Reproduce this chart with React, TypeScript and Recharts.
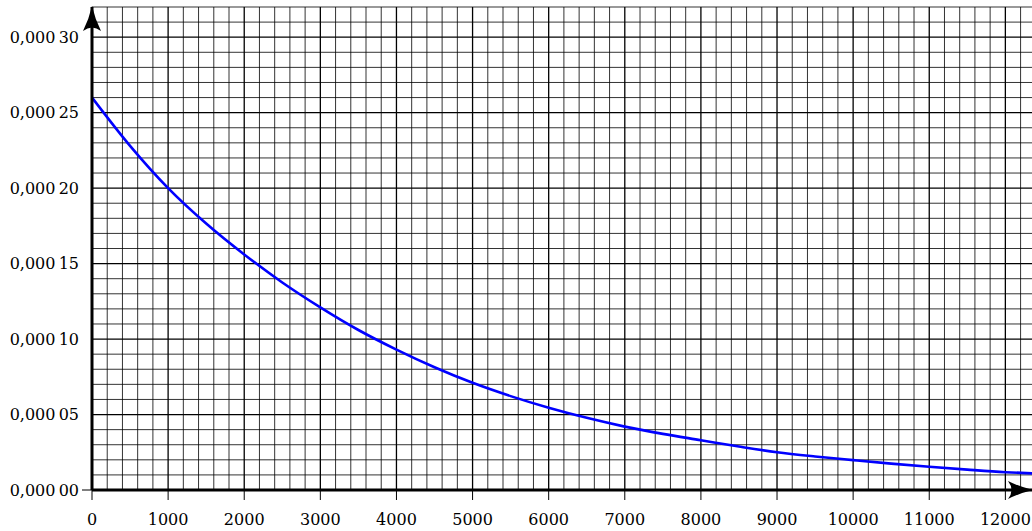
import { LineChart, Line, XAxis, YAxis, ReferenceLine } from "recharts";

// curve (x, y)
const xValues = [0, 500, 1000, 1500, 2000, 2500, 3000, 3500, 4000, 4500, 5000, 5500, 6000, 6500, 7000, 7500, 8000, 8500, 9000, 9500, 10000, 10500, 11000, 11500, 12000, 12350];
const yValues = [
  0.00026, 0.000228, 0.0002, 0.0001765, 0.000156, 0.0001375, 0.000121, 0.000106, 0.000093, 0.0000813, 0.000071,
  0.0000622, 0.0000545, 0.0000478, 0.000042, 0.0000372, 0.000033, 0.0000288, 0.000025, 0.0000222, 0.0000198,
  0.0000175, 0.0000154, 0.0000135, 0.0000118, 0.000011,
];

const xTicks = [0, 1000, 2000, 3000, 4000, 5000, 6000, 7000, 8000, 9000, 10000, 11000, 12000];
const yTicks = [0, 0.00005, 0.0001, 0.00015, 0.0002, 0.00025, 0.0003];
const yTickLabels = ["0,000\u200900", "0,000\u200905", "0,000\u200910", "0,000\u200915", "0,000\u200920", "0,000\u200925", "0,000\u200930"];

const X_MAX = 12350;
const Y_MAX = 0.00032;

const data = xValues.map((x, i) => ({ x, y: yValues[i] }));

// millimetre-paper grid: minor every 200 / 0.00001, major every 1000 / 0.00005
const xGrid = Array.from({ length: 62 }, (_, i) => i * 200).filter((v) => v <= X_MAX);
const yGrid = Array.from({ length: 33 }, (_, i) => +(i * 0.00001).toFixed(5));

const font = { fill: "#000", fontSize: 16, fontFamily: "DejaVu Serif" };

// y labels: only the origin gets a tick mark
function YTick(props: any) {
  const { x, y, payload } = props;
  const i = yTicks.indexOf(payload.value);
  return (
    <g>
      <text x={x} y={y} dy="0.355em" textAnchor="end" {...font}>
        {yTickLabels[i] ?? ""}
      </text>
      {payload.value === 0 && <line x1={x + 3} y1={y} x2={x + 13} y2={y} stroke="#000" strokeWidth={1} />}
    </g>
  );
}

export default function App() {
  return (
    <div style={{ position: "fixed", left: 0, top: 0, background: "#fff" }}>
      <svg width={0} height={0} style={{ position: "absolute" }}>
        <defs>
          <marker id="arrow" markerUnits="userSpaceOnUse" viewBox="0 0 30 20" markerWidth={30} markerHeight={20} refX={24} refY={10} orient="auto-start-reverse">
            <path d="M0,1 Q12,7 25,10 Q12,13 0,19 Q7,10 0,1 Z" fill="#000" />
          </marker>
        </defs>
      </svg>
      <LineChart width={1032} height={531} data={data} margin={{ top: 7, right: 0, left: 0, bottom: 0 }}>
        {xGrid.map((v) => (
          <ReferenceLine key={"x" + v} x={v} stroke="#000" strokeWidth={v % 1000 === 0 ? 1.3 : 1} strokeOpacity={v % 1000 === 0 ? 1 : 0.8} />
        ))}
        {yGrid.map((v, i) => (
          <ReferenceLine key={"y" + i} y={v} stroke="#000" strokeWidth={i % 5 === 0 ? 1.3 : 1} strokeOpacity={i % 5 === 0 ? 1 : 0.8} />
        ))}
        <XAxis
          dataKey="x"
          type="number"
          domain={[0, X_MAX]}
          ticks={xTicks}
          height={41}
          tickSize={10}
          tickMargin={14}
          tick={font}
          tickLine={{ stroke: "#000", strokeWidth: 1 }}
          axisLine={{ stroke: "#000", strokeWidth: 3, markerEnd: "url(#arrow)" }}
          allowDataOverflow
        />
        <YAxis
          type="number"
          domain={[0, Y_MAX]}
          ticks={yTicks}
          width={92}
          tickSize={10}
          tickMargin={3}
          tick={YTick}
          tickLine={false}
          axisLine={{ stroke: "#000", strokeWidth: 3, markerStart: "url(#arrow)" }}
          allowDataOverflow
        />
        <Line type="monotone" dataKey="y" stroke="#0000ff" strokeWidth={2.6} dot={false} isAnimationActive={false} />
      </LineChart>
    </div>
  );
}
